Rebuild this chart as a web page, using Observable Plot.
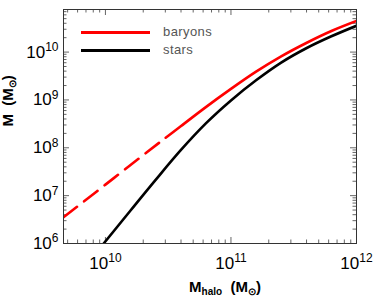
<!DOCTYPE html>
<html><head><meta charset="utf-8">
<script src="https://cdn.jsdelivr.net/npm/d3@7"></script>
<script src="https://cdn.jsdelivr.net/npm/@observablehq/plot@0.6"></script>
<style>
body{margin:0;background:#fff;}
#wrap{position:relative;width:374px;height:297px;font-family:"Liberation Sans",Arial,sans-serif;}
.leg{position:absolute;left:81px;width:69px;height:3px;}
.legt{position:absolute;left:163px;font-size:13px;color:#555;line-height:14px;letter-spacing:0.4px;}
</style></head><body><div id="wrap"></div>
<script>
// values, as log10(mass)
const redDashedLogX = [9.666, 9.8, 10.0, 10.2, 10.44];
const redDashedLogY = [6.55, 6.82, 7.23, 7.64, 8.13];
const redSolidLogX = [10.48, 10.6, 10.8, 11.0, 11.2, 11.4, 11.6, 11.8, 12.0];
const redSolidLogY = [8.21, 8.45, 8.85, 9.23, 9.59, 9.91, 10.19, 10.44, 10.65];
const blackLogX = [9.986, 10.2, 10.4, 10.6, 10.8, 11.0, 11.2, 11.4, 11.6, 11.8, 12.0];
const blackLogY = [6.0, 6.69, 7.33, 7.95, 8.51, 8.99, 9.41, 9.78, 10.08, 10.33, 10.55];
const seriesNames = ["baryons", "stars"];
const seriesColors = ["#ff0000", "#000000"];
const xTickExps = [10, 11, 12];
const yTickExps = [6, 7, 8, 9, 10];
const xTitle = "M_{halo}  (M_{⊙})";
const yTitle = "M  (M_{⊙})";

const toRows = (lx, ly) => lx.map((v, i) => ({x: 10 ** v, y: 10 ** ly[i]}));
const redDashed = toRows(redDashedLogX, redDashedLogY);
const redSolid = toRows(redSolidLogX, redSolidLogY);
const black = toRows(blackLogX, blackLogY);

const W = 374, H = 297, mL = 63, mR = 18, mT = 9, mB = 54;
const fw = W - mL - mR, fh = H - mT - mB;
const xDomain = [10 ** 9.666, 1e12], yDomain = [1e6, 10 ** 10.89];
const majorX = xTickExps.map(e => 10 ** e);
const majorY = yTickExps.map(e => 10 ** e);
const minorX = [], minorY = [];
for (let e = 9; e < 12; e++) for (let k = 2; k <= 9; k++) { const v = k * 10 ** e; if (v >= xDomain[0] && v <= xDomain[1]) minorX.push(v); }
for (let e = 6; e < 11; e++) for (let k = 2; k <= 9; k++) { const v = k * 10 ** e; if (v >= yDomain[0] && v <= yDomain[1]) minorY.push(v); }

const majL = 6, minL = 3.5, tickCol = "#666";
const plot = Plot.plot({
  width: W, height: H, marginLeft: mL, marginRight: mR, marginTop: mT, marginBottom: mB,
  x: {type: "log", domain: xDomain},
  y: {type: "log", domain: yDomain},
  style: {fontFamily: "'Liberation Sans', Arial, sans-serif", background: "#fff", color: "#000"},
  marks: [
    Plot.tickX(majorX, {x: d => d, insetTop: fh - majL, stroke: tickCol}),
    Plot.tickX(majorX, {x: d => d, insetBottom: fh - majL, stroke: tickCol}),
    Plot.tickX(minorX, {x: d => d, insetTop: fh - minL, stroke: tickCol}),
    Plot.tickX(minorX, {x: d => d, insetBottom: fh - minL, stroke: tickCol}),
    Plot.tickY(majorY, {y: d => d, insetRight: fw - majL, stroke: tickCol}),
    Plot.tickY(majorY, {y: d => d, insetLeft: fw - majL, stroke: tickCol}),
    Plot.tickY(minorY, {y: d => d, insetRight: fw - minL, stroke: tickCol}),
    Plot.tickY(minorY, {y: d => d, insetLeft: fw - minL, stroke: tickCol}),
    Plot.line(black, {x: "x", y: "y", stroke: seriesColors[1], strokeWidth: 2.6, curve: "monotone-x", clip: true}),
    Plot.line(redDashed, {x: "x", y: "y", stroke: seriesColors[0], strokeWidth: 2.6, strokeDasharray: "17,9", curve: "monotone-x", clip: true}),
    Plot.line(redSolid, {x: "x", y: "y", stroke: seriesColors[0], strokeWidth: 2.6, curve: "monotone-x", clip: true}),
    Plot.frame({stroke: "#333"}),
    Plot.axisX(majorX, {tickSize: 0, tickPadding: 13, label: null, fontSize: 17, tickFormat: d => `10^{${Math.round(Math.log10(d))}}`}),
    Plot.axisY(majorY, {tickSize: 0, tickPadding: 5, label: null, fontSize: 17, tickFormat: d => `10^{${Math.round(Math.log10(d))}}`}),
    Plot.text([xTitle], {frameAnchor: "bottom", dy: 48, dx: 15, text: d => d, fontSize: 15, fontWeight: "bold", lineAnchor: "bottom"}),
    Plot.text([yTitle], {frameAnchor: "left", dx: -51, rotate: -90, text: d => d, fontSize: 15, fontWeight: "bold", lineAnchor: "bottom"})
  ]
});

const NS = "http://www.w3.org/2000/svg";
function richify(el, str, supSize, supShift, subSize, subShift) {
  el.textContent = "";
  el.setAttribute("xml:space", "preserve");
  el.style.whiteSpace = "pre";
  const re = /([\^_])\{([^}]*)\}|([^\^_]+)/g;
  let m, cur = 0;
  while ((m = re.exec(str))) {
    const ts = document.createElementNS(NS, "tspan");
    if (m[3]) {
      if (cur) { ts.setAttribute("dy", (-cur) + "px"); cur = 0; }
      ts.textContent = m[3];
    } else {
      const sup = m[1] === "^";
      const d = sup ? -supShift : subShift;
      ts.setAttribute("dy", (d - cur) + "px");
      cur = d;
      ts.setAttribute("font-size", (sup ? supSize : subSize) + "px");
      ts.textContent = m[2];
    }
    el.appendChild(ts);
  }
}
plot.querySelectorAll("text").forEach(t => {
  const s = t.textContent;
  if (/^10\^\{\d+\}$/.test(s)) richify(t, s, 12, 6.5, 9, 3);
  else if (s.includes("_{")) richify(t, s, 10, 5, 10, 3.5);
});

const wrap = document.getElementById("wrap");
wrap.appendChild(plot);
const legY = [30.5, 49];
seriesNames.forEach((n, i) => {
  const l = document.createElement("div");
  l.className = "leg"; l.style.top = legY[i] + "px"; l.style.background = seriesColors[i];
  wrap.appendChild(l);
  const t = document.createElement("div");
  t.className = "legt"; t.style.top = (legY[i] - 6) + "px"; t.textContent = n;
  wrap.appendChild(t);
});
</script>
</body></html>
